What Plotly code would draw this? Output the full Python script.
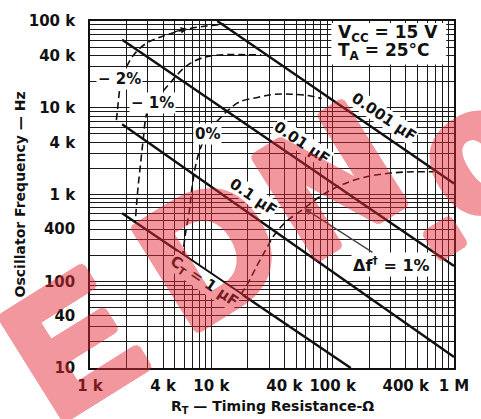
import numpy as np
import plotly.graph_objects as go

# ---- Timing capacitor lines (RT in ohms, frequency in Hz) ----
c0001_rt = [11200, 1000000]
c0001_f = [100000, 1340]
c001_rt = [1840, 1000000]
c001_f = [60700, 150]
c01_rt = [1840, 1000000]
c01_f = [6470, 13.4]
c1_rt = [1840, 141000]
c1_f = [607, 10]

# ---- Frequency-variation contours (dashed) ----
dm2_rt = [1650, 1710, 1770, 1870, 2020, 2300, 2870, 3640, 4810, 6340, 9170, 12800]
dm2_f = [7200, 11600, 17600, 24200, 30600, 40900, 54600, 63900, 72900, 81000, 87700, 92400]

dm1_rt = [2380, 2470, 2610, 2760, 2920, 3200, 3780, 4390, 5080, 5890, 7080, 9180, 13300, 19200, 25800]
dm1_f = [561, 1080, 2260, 4600, 8430, 11200, 14300, 18100, 22900, 28300, 34000, 38800, 40900, 40900, 40900]

d0_rt = [5780, 6110, 6580, 6950, 7480, 8210, 9350, 11000, 13500, 16900, 24400, 33400, 45700, 61500, 81100]
d0_f = [186, 349, 640, 1230, 2260, 3540, 4980, 6830, 9120, 11600, 13200, 14300, 14300, 13900, 12800]

dp1_rt = [17500, 20300, 24000, 28300, 33400, 41700, 58200, 81100, 115000, 176000, 324000, 679000]
dp1_f = [70.2, 98.6, 155, 235, 349, 491, 692, 975, 1267, 1563, 1783, 1832]

# ---- Axis ticks ----
x_tickvals = [1e3, 4e3, 1e4, 4e4, 1e5, 4e5, 1e6]
x_ticktext = ["1 k", "4 k", "10 k", "40 k", "100 k", "400 k", "1 M"]
y_tickvals = [10, 40, 100, 400, 1e3, 4e3, 1e4, 4e4, 1e5]
y_ticktext = ["10", "40", "100", "400", "1 k", "4 k", "10 k", "40 k", "100 k"]

x_grid = [m * 10 ** d for d in range(3, 6) for m in range(1, 10)] + [1e6]
y_grid = [m * 10 ** d for d in range(1, 5) for m in range(1, 10)] + [1e5]

FONT = "DejaVu Sans"
INK = "#111111"

fig = go.Figure()

for rt, f in [(c0001_rt, c0001_f), (c001_rt, c001_f), (c01_rt, c01_f), (c1_rt, c1_f)]:
    fig.add_trace(go.Scatter(x=rt, y=f, mode="lines",
                             line=dict(color=INK, width=2.4), hoverinfo="skip"))

for rt, f in [(dm2_rt, dm2_f), (dm1_rt, dm1_f), (d0_rt, d0_f), (dp1_rt, dp1_f)]:
    fig.add_trace(go.Scatter(x=rt, y=f, mode="lines", line_shape="spline",
                             line=dict(color=INK, width=1.6, dash="7px,4px"),
                             hoverinfo="skip"))

grid = dict(showgrid=True, gridcolor="#1a1a1a", gridwidth=1)

fig.update_xaxes(type="log", range=[3, 6], tickvals=x_tickvals, ticktext=x_ticktext,
                 ticks="", showline=True, linecolor=INK, linewidth=1.5, mirror=True,
                 zeroline=False, ticklabelstandoff=3,
                 tickfont=dict(family=FONT, size=15, color=INK, weight="bold"),
                 minor=dict(tickvals=x_grid, **grid), **grid)
fig.update_yaxes(type="log", range=[1, 5], tickvals=y_tickvals, ticktext=y_ticktext,
                 ticks="", showline=True, linecolor=INK, linewidth=1.5, mirror=True,
                 zeroline=False, ticklabelstandoff=10,
                 tickfont=dict(family=FONT, size=15, color=INK, weight="bold"),
                 minor=dict(tickvals=y_grid, **grid), **grid)

lab = dict(family=FONT, size=15, color=INK, weight="bold")
ann = []

# line labels (rotated along lines)
for txt, x, y in [("0.001 µF", 5.422, 3.891), ("0.01 µF", 4.749, 3.594),
                  ("0.1 µF", 4.348, 2.977), ("C<sub>T</sub> = 1 µF", 3.938, 1.994)]:
    ann.append(dict(text=txt, x=x, y=y, xref="x", yref="y", showarrow=False,
                    textangle=34, font=lab, bgcolor="white", borderpad=0))

# contour labels
for txt, x, y in [("− 2%", 3.241, 4.337), ("− 1%", 3.513, 4.051), ("0%", 3.971, 3.697)]:
    ann.append(dict(text=txt, x=x, y=y, xref="x", yref="y", showarrow=False,
                    font=dict(family=FONT, size=15, color=INK, weight="bold"),
                    bgcolor="white", borderpad=1))

# delta f label with leader arrow
ann.append(dict(text="Δf<sup>†</sup> = 1%", x=np.log10(dp1_rt[6]), y=np.log10(dp1_f[6]),
                xref="x", yref="y", showarrow=True, ax=87, ay=56,
                arrowcolor="#444", arrowwidth=1.3, arrowhead=2, arrowsize=1.1,
                font=dict(family=FONT, size=16, color=INK, weight="bold"),
                bgcolor="white", borderpad=1))

# arrowhead on -2% contour
ann.append(dict(text="", x=np.log10(dm2_rt[9]), y=np.log10(dm2_f[9]), xref="x", yref="y",
                showarrow=True, ax=-14, ay=3, arrowcolor=INK, arrowwidth=1.2,
                arrowhead=2, arrowsize=1.1))

# conditions box
cond = dict(family=FONT, size=17, color=INK, weight="bold")
ann.append(dict(text="V<sub>CC</sub> = 15 V", x=(343 - 90) / 374, y=(368 - 31) / 350,
                xref="paper", yref="paper", xanchor="left", yanchor="middle",
                showarrow=False, font=cond))
ann.append(dict(text="T<sub>A</sub> = 25°C", x=(343 - 90) / 374, y=(368 - 49) / 350,
                xref="paper", yref="paper", xanchor="left", yanchor="middle",
                showarrow=False, font=cond))

# axis titles
ann.append(dict(text="R<sub>T</sub> — Timing Resistance-Ω", x=0.5, y=-(407 - 368) / 350,
                xref="paper", yref="paper", xanchor="center", yanchor="middle",
                showarrow=False, font=dict(family=FONT, size=14, color=INK, weight="bold")))
ann.append(dict(text="Oscillator Frequency — Hz", x=-(90 - 18) / 374, y=0.5,
                xref="paper", yref="paper", xanchor="center", yanchor="middle",
                showarrow=False, textangle=-90,
                font=dict(family=FONT, size=14, color=INK, weight="bold")))

# watermark letters (pixel centres in the 481x419 picture)
wc = "rgb(228,40,52)"
offs = [(5, 0), (-5, 0), (0, 5), (0, -5), (4, 4), (-4, -4), (4, -4), (-4, 4),
        (2, 5), (-2, -5), (5, 2), (-5, -2), (2, -5), (-2, 5), (5, -2), (-5, 2)]
shadow = ", ".join(f"{dx}px {dy}px 0 {wc}" for dx, dy in offs)
wm = dict(family="Liberation Sans", size=170, color=wc, weight="bold", shadow=shadow)
for ch, px, py in [("E", 72, 343), ("D", 213, 250), ("N", 336, 178), (".", 430, 198), ("c", 482, 150)]:
    ann.append(dict(text=ch, x=(px - 90) / 374, y=(368 - py) / 350, xref="paper", yref="paper",
                    xanchor="center", yanchor="middle", showarrow=False, textangle=-32,
                    font=wm, opacity=0.48))

shapes = [dict(type="rect", xref="paper", yref="paper", layer="above",
               x0=(338 - 90) / 374, x1=(456 - 90) / 374, y0=(368 - 62) / 350, y1=(368 - 20) / 350,
               fillcolor="white", line=dict(width=0))]

fig.update_layout(width=481, height=419, margin=dict(l=90, r=17, t=18, b=51),
                  paper_bgcolor="white", plot_bgcolor="white", showlegend=False,
                  annotations=ann, shapes=shapes)

fig.write_html("out.html", config={"displayModeBar": False},
               post_script="document.body.style.margin='0';")
